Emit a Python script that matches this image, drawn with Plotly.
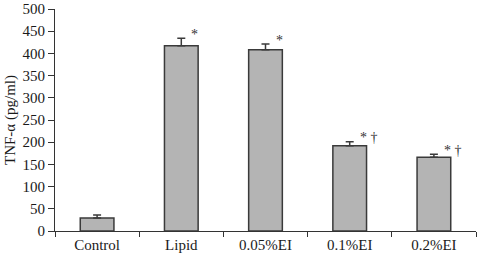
import plotly.graph_objects as go

categories = ["Control", "Lipid", "0.05%EI", "0.1%EI", "0.2%EI"]
values = [29, 417, 408, 192, 166]
errors = [7, 17, 13, 9, 7]
marks = ["", "*", "*", "* \u2020", "* \u2020"]

FONT = "Liberation Serif, Times New Roman, serif"

fig = go.Figure()
fig.add_trace(go.Bar(
    x=categories, y=values,
    width=0.4,
    marker=dict(color="#b4b4b4", line=dict(color="#3a3a3a", width=1.5)),
    error_y=dict(type="data", array=errors, arrayminus=[0]*len(errors),
                 symmetric=False, color="#3a3a3a", thickness=1.5, width=4),
    hoverinfo="skip",
))

for c, v, e, m in zip(categories, values, errors, marks):
    if m:
        fig.add_annotation(x=c, y=v + e, text=m, showarrow=False,
                           xanchor="left", yanchor="middle",
                           xshift=8, yshift=4,
                           font=dict(family=FONT, size=14, color="#333333"))

fig.update_layout(
    width=481, height=257,
    margin=dict(l=55, r=5, t=9, b=26, autoexpand=False),
    paper_bgcolor="white", plot_bgcolor="white",
    showlegend=False,
    font=dict(family=FONT, size=15, color="#1a1a1a"),
)
fig.update_xaxes(
    type="category", tickson="boundaries",
    showline=True, linecolor="#333333", linewidth=1.2,
    ticks="outside", ticklen=5, tickcolor="#333333", tickwidth=1.2,
    showgrid=False, zeroline=False,
    tickfont=dict(family=FONT, size=15, color="#1a1a1a"),
)
fig.update_yaxes(
    range=[0, 500], tickvals=list(range(0, 501, 50)),
    showline=True, linecolor="#333333", linewidth=1.2,
    ticks="outside", ticklen=6, tickcolor="#333333", tickwidth=1.2,
    showgrid=False, zeroline=False,
    title=dict(text="TNF-\u03b1 (pg/ml)", font=dict(family=FONT, size=15, color="#1a1a1a"), standoff=3),
    tickfont=dict(family=FONT, size=15, color="#1a1a1a"),
)

fig.write_html("out.html", config={"displayModeBar": False},
               post_script="document.body.style.margin='0';")
